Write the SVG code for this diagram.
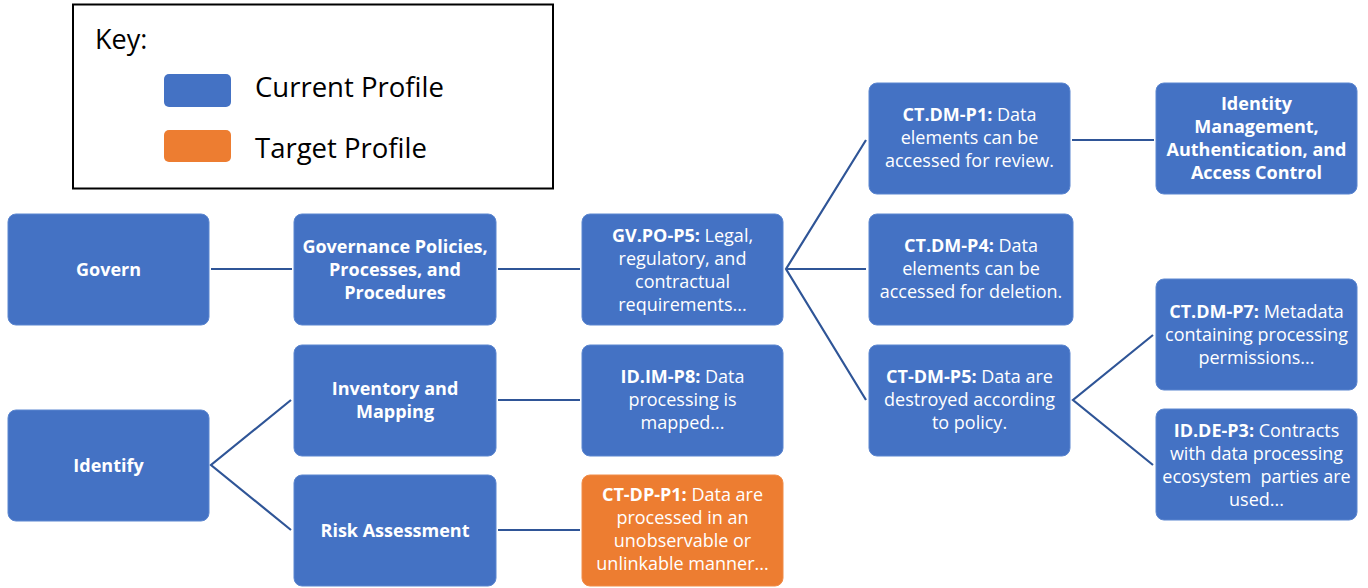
<svg xmlns="http://www.w3.org/2000/svg" width="1368" height="588" viewBox="0 0 1368 588">
<style>
.n{fill:#4472C4;stroke:#5B86D0;stroke-width:1}
.o{fill:#ED7D31;stroke:#F08C48;stroke-width:1}
.t{font-family:"Open Sans","Liberation Sans",sans-serif;font-size:18px;fill:#fff;text-anchor:middle}
.b{font-weight:bold}
.c{stroke:#2F5597;stroke-width:2.2;fill:none}
.k{font-family:"Open Sans","Liberation Sans",sans-serif;fill:#000}
</style>
<rect width="1368" height="588" fill="#fff"/>
<g id="key">
<rect x="73" y="4.5" width="480" height="184" fill="#fff" stroke="#000" stroke-width="2"/>
<text class="k" x="95" y="49" font-size="27">Key:</text>
<rect x="164" y="74" width="67" height="33" rx="5" fill="#4472C4"/>
<text class="k" x="255" y="97" font-size="27.5">Current Profile</text>
<rect x="164" y="130" width="67" height="32" rx="5" fill="#ED7D31"/>
<text class="k" x="255" y="158" font-size="27.5">Target Profile</text>
</g>
<g id="connectors">
<line class="c" x1="211" y1="269" x2="292" y2="269"/>
<line class="c" x1="498" y1="269" x2="580" y2="269"/>
<polyline class="c" points="866,140 786,269 866,400"/>
<line class="c" x1="786" y1="269" x2="866" y2="269"/>
<line class="c" x1="1072" y1="140" x2="1154" y2="140"/>
<polyline class="c" points="291,400 211,465 291,530"/>
<line class="c" x1="498" y1="400" x2="580" y2="400"/>
<line class="c" x1="498" y1="530" x2="580" y2="530"/>
<polyline class="c" points="1153,335 1073,400 1153,465"/>
</g>
<g id="govern">
<rect class="n" x="8" y="214" width="201" height="111" rx="8"/>
<text class="t b" x="108.5" y="276">Govern</text>
</g>
<g id="gov-policies">
<rect class="n" x="294" y="214" width="202" height="111" rx="8"/>
<text class="t b" x="395" y="253">Governance Policies,</text>
<text class="t b" x="395" y="276">Processes, and</text>
<text class="t b" x="395" y="299">Procedures</text>
</g>
<g id="gv-po-p5">
<rect class="n" x="582" y="214" width="201" height="111" rx="8"/>
<text class="t" x="682.5" y="242"><tspan class="b">GV.PO-P5:</tspan> Legal,</text>
<text class="t" x="682.5" y="265">regulatory, and</text>
<text class="t" x="682.5" y="288">contractual</text>
<text class="t" x="682.5" y="311">requirements...</text>
</g>
<g id="identify">
<rect class="n" x="8" y="410" width="201" height="111" rx="8"/>
<text class="t b" x="108.5" y="472">Identify</text>
</g>
<g id="inventory">
<rect class="n" x="294" y="345" width="202" height="111" rx="8"/>
<text class="t b" x="395" y="395">Inventory and</text>
<text class="t b" x="395" y="418">Mapping</text>
</g>
<g id="risk">
<rect class="n" x="294" y="475" width="202" height="111" rx="8"/>
<text class="t b" x="395" y="537">Risk Assessment</text>
</g>
<g id="id-im-p8">
<rect class="n" x="582" y="345" width="201" height="111" rx="8"/>
<text class="t" x="682.5" y="383"><tspan class="b">ID.IM-P8:</tspan> Data</text>
<text class="t" x="682.5" y="406">processing is</text>
<text class="t" x="682.5" y="429">mapped...</text>
</g>
<g id="ct-dp-p1">
<rect class="o" x="582" y="475" width="201" height="111" rx="8"/>
<text class="t" x="682.5" y="501"><tspan class="b">CT-DP-P1:</tspan> Data are</text>
<text class="t" x="682.5" y="524">processed in an</text>
<text class="t" x="682.5" y="547">unobservable or</text>
<text class="t" x="682.5" y="570">unlinkable manner...</text>
</g>
<g id="ct-dm-p1">
<rect class="n" x="869" y="83" width="201" height="111" rx="8"/>
<text class="t" x="969.5" y="121"><tspan class="b">CT.DM-P1:</tspan> Data</text>
<text class="t" x="969.5" y="144">elements can be</text>
<text class="t" x="969.5" y="167">accessed for review.</text>
</g>
<g id="ct-dm-p4">
<rect class="n" x="869" y="214" width="204" height="111" rx="8"/>
<text class="t" x="971" y="252"><tspan class="b">CT.DM-P4:</tspan> Data</text>
<text class="t" x="971" y="275">elements can be</text>
<text class="t" x="971" y="298">accessed for deletion.</text>
</g>
<g id="ct-dm-p5">
<rect class="n" x="869" y="345" width="201" height="111" rx="8"/>
<text class="t" x="969.5" y="383"><tspan class="b">CT-DM-P5:</tspan> Data are</text>
<text class="t" x="969.5" y="406">destroyed according</text>
<text class="t" x="969.5" y="429">to policy.</text>
</g>
<g id="identity-mgmt">
<rect class="n" x="1156" y="83" width="201" height="111" rx="8"/>
<text class="t b" x="1256.5" y="110">Identity</text>
<text class="t b" x="1256.5" y="133">Management,</text>
<text class="t b" x="1256.5" y="156">Authentication, and</text>
<text class="t b" x="1256.5" y="179">Access Control</text>
</g>
<g id="ct-dm-p7">
<rect class="n" x="1156" y="279" width="201" height="111" rx="8"/>
<text class="t" x="1256.5" y="318"><tspan class="b">CT.DM-P7:</tspan> Metadata</text>
<text class="t" x="1256.5" y="341">containing processing</text>
<text class="t" x="1256.5" y="364">permissions...</text>
</g>
<g id="id-de-p3">
<rect class="n" x="1156" y="409" width="201" height="111" rx="8"/>
<text class="t" x="1256.5" y="437"><tspan class="b">ID.DE-P3:</tspan> Contracts</text>
<text class="t" x="1256.5" y="460">with data processing</text>
<text class="t" x="1256.5" y="483">ecosystem&#160; parties are</text>
<text class="t" x="1256.5" y="506">used...</text>
</g>
</svg>
